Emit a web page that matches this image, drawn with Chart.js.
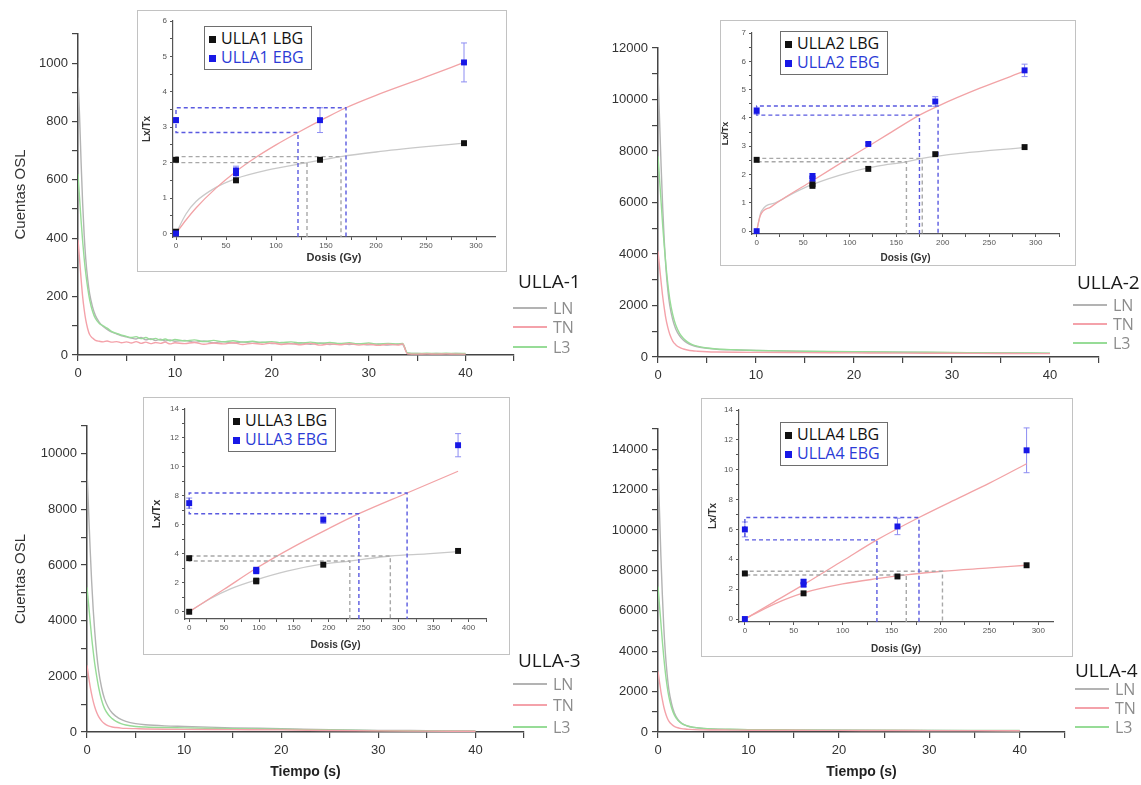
<!DOCTYPE html>
<html>
<head>
<meta charset="utf-8">
<script src="https://cdn.jsdelivr.net/npm/chart.js@4.4.0/dist/chart.umd.min.js"></script>
<style>
body { margin: 0; background: #fff; width: 1141px; height: 785px; position: relative; overflow: hidden; font-family: "Liberation Sans", Arial, sans-serif; }
canvas { position: absolute; }
.box { position: absolute; background: #fff; border: 1.5px solid #c2c2c2; box-sizing: border-box; z-index: 2; }
.lg { position: absolute; z-index: 4; background: #fff; border: 1px solid #6e6e6e; font: 16px/19px "Open Sans"; padding: 2px 7px 2px 4px; white-space: nowrap; color: #111; }
.lg .m { display: inline-block; width: 7px; height: 7px; margin-right: 5px; vertical-align: 1px; }
.pt { position: absolute; z-index: 4; font: 19px/26px "Open Sans"; color: #1a1a1a; }
.pr { position: absolute; z-index: 4; font: 16px/20px "Open Sans"; color: #8c8c8c; display: flex; align-items: center; }
.pr i { display: inline-block; width: 34px; height: 2px; margin-right: 6px; }
</style>
</head>
<body>
<canvas id="m1" width="520" height="370" style="left:8px;top:20px;z-index:1"></canvas>
<canvas id="m2" width="516" height="360" style="left:598px;top:30px;z-index:1"></canvas>
<canvas id="m3" width="530" height="375" style="left:8px;top:410px;z-index:1"></canvas>
<canvas id="m4" width="490" height="375" style="left:590px;top:410px;z-index:1"></canvas>

<div class="box" style="left:137px;top:10px;width:370px;height:262px"></div>
<canvas id="i1" width="370" height="262" style="left:137px;top:10px;z-index:3"></canvas>
<div class="box" style="left:720px;top:20px;width:356px;height:246px"></div>
<canvas id="i2" width="356" height="246" style="left:720px;top:20px;z-index:3"></canvas>
<div class="box" style="left:143px;top:397px;width:367px;height:258px"></div>
<canvas id="i3" width="367" height="258" style="left:143px;top:397px;z-index:3"></canvas>
<div class="box" style="left:701px;top:398px;width:372px;height:259px"></div>
<canvas id="i4" width="372" height="259" style="left:701px;top:398px;z-index:3"></canvas>

<div class="lg" style="left:204px;top:26px"><div><span class="m" style="background:#111"></span>ULLA1 LBG</div><div style="color:#2b3bd6"><span class="m" style="background:#1818e6"></span>ULLA1 EBG</div></div>
<div class="lg" style="left:780px;top:31px"><div><span class="m" style="background:#111"></span>ULLA2 LBG</div><div style="color:#2b3bd6"><span class="m" style="background:#1818e6"></span>ULLA2 EBG</div></div>
<div class="lg" style="left:228px;top:408px"><div><span class="m" style="background:#111"></span>ULLA3 LBG</div><div style="color:#2b3bd6"><span class="m" style="background:#1818e6"></span>ULLA3 EBG</div></div>
<div class="lg" style="left:780px;top:422px"><div><span class="m" style="background:#111"></span>ULLA4 LBG</div><div style="color:#2b3bd6"><span class="m" style="background:#1818e6"></span>ULLA4 EBG</div></div>

<div class="pt" style="left:518px;top:268px">ULLA-1</div>
<div class="pr" style="left:513px;top:298px"><i style="background:#b3b3b3"></i>LN</div>
<div class="pr" style="left:513px;top:317px"><i style="background:#f4a2aa"></i>TN</div>
<div class="pr" style="left:513px;top:337px"><i style="background:#97dc97"></i>L3</div>

<div class="pt" style="left:1077px;top:269px">ULLA-2</div>
<div class="pr" style="left:1073px;top:295px"><i style="background:#b3b3b3"></i>LN</div>
<div class="pr" style="left:1073px;top:314px"><i style="background:#f4a2aa"></i>TN</div>
<div class="pr" style="left:1073px;top:333px"><i style="background:#97dc97"></i>L3</div>

<div class="pt" style="left:518px;top:647px">ULLA-3</div>
<div class="pr" style="left:513px;top:674px"><i style="background:#b3b3b3"></i>LN</div>
<div class="pr" style="left:513px;top:695px"><i style="background:#f4a2aa"></i>TN</div>
<div class="pr" style="left:513px;top:717px"><i style="background:#97dc97"></i>L3</div>

<div class="pt" style="left:1075px;top:657px">ULLA-4</div>
<div class="pr" style="left:1075px;top:679px"><i style="background:#b3b3b3"></i>LN</div>
<div class="pr" style="left:1075px;top:698px"><i style="background:#f4a2aa"></i>TN</div>
<div class="pr" style="left:1075px;top:717px"><i style="background:#97dc97"></i>L3</div>

<script>
// OSL decay curves, ULLA-1 (time in s, counts)
const t1 = [0, 0.16, 0.32, 0.48, 0.64, 0.8, 1, 1.2, 1.5, 1.8, 2.2, 2.6, 3, 3.5, 4, 4.5, 5,
  5.5, 6, 6.5, 7, 7.5, 8, 8.5, 9, 9.5, 10,
  11, 12, 13, 14, 15, 16, 17, 18, 19, 20, 21, 22, 23, 24, 25, 26, 27, 28, 29, 30, 31, 32, 33,
  33.5, 34, 35, 36, 37, 38, 39, 40];
const ln1 = [950, 820, 660, 520, 410, 330, 260, 210, 165, 135, 112, 98, 88, 78, 72, 66, 62,
  58, 55, 60, 52, 56, 50, 54, 48, 52, 47,
  50, 44, 48, 42, 46, 41, 45, 40, 44, 39, 43, 38, 42, 37, 41, 36, 40, 36, 39, 35, 38, 34, 37,
  36, 6, 5, 4, 5, 4, 5, 4];
const tn1 = [395, 330, 260, 200, 155, 120, 90, 70, 58, 50, 47, 45, 48, 44, 46, 42, 45,
  41, 46, 40, 44, 39, 43, 40, 44, 38, 42,
  39, 43, 37, 41, 38, 42, 36, 40, 37, 41, 36, 39, 35, 40, 34, 38, 35, 39, 34, 37, 33, 37, 34,
  38, 4, 3, 4, 3, 4, 3, 3];
const l31 = [620, 540, 460, 390, 330, 280, 230, 190, 150, 125, 108, 100, 92, 80, 74, 68, 64,
  60, 63, 56, 60, 53, 57, 51, 55, 49, 53,
  48, 52, 46, 50, 45, 49, 44, 47, 43, 46, 42, 45, 41, 44, 40, 43, 39, 42, 38, 41, 37, 40, 38,
  40, 7, 5, 6, 5, 6, 5, 5];

// OSL decay curves, ULLA-2..4 (shared time grid)
const tOsl = [0, 0.16, 0.32, 0.48, 0.64, 0.8, 1, 1.2, 1.5, 1.8, 2.2, 2.6, 3, 3.5, 4, 5, 6, 8, 10, 15, 20, 25, 30, 35, 40];
const ln2 = [11000, 9200, 7400, 5800, 4500, 3500, 2600, 2000, 1450, 1100, 820, 650, 540, 450, 400, 340, 300, 270, 250, 220, 200, 185, 170, 155, 140];
const l32 = [7800, 6900, 6000, 5100, 4300, 3600, 2850, 2250, 1650, 1250, 920, 720, 590, 480, 420, 350, 310, 280, 255, 225, 205, 190, 175, 160, 150];
const tn2 = [4100, 3500, 2900, 2350, 1900, 1500, 1150, 880, 620, 480, 370, 310, 270, 240, 225, 205, 195, 185, 180, 170, 160, 150, 145, 135, 130];
const ln3 = [9400, 8000, 6600, 5400, 4400, 3600, 2800, 2200, 1600, 1200, 880, 680, 560, 450, 380, 300, 260, 220, 200, 150, 120, 80, 60, 50, 40];
const l33 = [5200, 4600, 4000, 3400, 2900, 2450, 2000, 1600, 1150, 850, 620, 480, 380, 300, 250, 200, 180, 160, 150, 120, 100, 70, 50, 40, 30];
const tn3 = [2400, 2000, 1650, 1350, 1100, 900, 700, 550, 400, 300, 220, 180, 160, 140, 130, 120, 110, 100, 95, 85, 75, 55, 40, 30, 25];
const ln4 = [13500, 11000, 8700, 6800, 5200, 4000, 2900, 2100, 1400, 950, 620, 440, 340, 260, 220, 170, 145, 125, 110, 95, 85, 78, 72, 68, 65];
const l34 = [7200, 6300, 5400, 4500, 3700, 3000, 2300, 1750, 1200, 850, 580, 430, 340, 270, 230, 180, 155, 135, 120, 105, 95, 88, 82, 78, 75];
const tn4 = [3000, 2500, 2000, 1600, 1250, 980, 720, 540, 380, 280, 210, 170, 145, 130, 120, 105, 100, 95, 90, 85, 80, 75, 70, 68, 65];

// dose-response insets: ULLA1
const u1LbgDose = [0, 0, 60, 144, 288];
const u1LbgLx = [0.05, 2.08, 1.5, 2.08, 2.55];
const u1EbgDose = [0, 0, 60, 60, 144, 288];
const u1EbgLx = [0, 3.2, 1.7, 1.78, 3.2, 4.83];
const u1EbgErr = [0, 0.07, 0.12, 0.12, 0.35, 0.55];
const u1FitEbgDose = [0, 10, 20, 40, 60, 80, 100, 122, 150, 170, 200, 250, 288];
const u1FitEbg = [0, 0.38, 0.72, 1.28, 1.75, 2.15, 2.5, 2.85, 3.27, 3.55, 3.9, 4.42, 4.83];
const u1FitLbgDose = [0, 10, 20, 40, 60, 90, 131, 165, 200, 250, 288];
const u1FitLbg = [0, 0.55, 0.9, 1.3, 1.55, 1.78, 2.0, 2.17, 2.3, 2.45, 2.55];
const u1DeEbg = [[122, 2.85], [170, 3.55]];
const u1DeLbg = [[131, 2.0], [165, 2.17]];

// ULLA2
const u2LbgDose = [0, 60, 60, 120, 192, 288];
const u2LbgLx = [2.52, 1.6, 1.66, 2.2, 2.72, 2.97];
const u2EbgDose = [0, 0, 60, 60, 120, 192, 288];
const u2EbgLx = [0, 4.25, 1.86, 1.95, 3.08, 4.58, 5.68];
const u2EbgErr = [0, 0.12, 0.08, 0.08, 0.05, 0.17, 0.22];
const u2FitEbgDose = [0, 4, 15, 30, 60, 100, 140, 175, 195, 240, 288];
const u2FitEbg = [0, 0.55, 0.85, 1.18, 1.78, 2.6, 3.4, 4.1, 4.42, 5.05, 5.65];
const u2FitLbgDose = [0, 5, 20, 40, 60, 100, 130, 161, 178, 220, 288];
const u2FitLbg = [0, 0.7, 1.0, 1.35, 1.65, 2.08, 2.3, 2.45, 2.57, 2.75, 2.95];
const u2DeEbg = [[175, 4.1], [195, 4.42]];
const u2DeLbg = [[161, 2.45], [178, 2.57]];

// ULLA3
const u3LbgDose = [0, 0, 96, 96, 192, 385];
const u3LbgLx = [0, 3.7, 2.1, 2.15, 3.25, 4.2];
const u3EbgDose = [0, 96, 96, 192, 385];
const u3EbgLx = [7.5, 2.8, 2.9, 6.35, 11.5];
const u3EbgErr = [0.35, 0.15, 0.15, 0.25, 0.8];
const u3FitEbgDose = [0, 50, 96, 150, 200, 243, 312, 385];
const u3FitEbg = [0, 1.55, 3.0, 4.5, 5.75, 6.77, 8.2, 9.7];
const u3FitLbgDose = [0, 30, 60, 96, 140, 192, 230, 288, 340, 385];
const u3FitLbg = [0, 0.9, 1.6, 2.2, 2.8, 3.3, 3.5, 3.85, 4.0, 4.15];
const u3DeEbg = [[243, 6.77], [312, 8.2]];
const u3DeLbg = [[230, 3.5], [288, 3.85]];

// ULLA4
const u4LbgDose = [0, 60, 156, 288];
const u4LbgLx = [3.05, 1.72, 2.85, 3.6];
const u4EbgDose = [0, 0, 60, 60, 156, 288];
const u4EbgLx = [0, 6.0, 2.3, 2.5, 6.2, 11.3];
const u4EbgErr = [0, 0.5, 0.12, 0.12, 0.55, 1.5];
const u4FitEbgDose = [0, 30, 60, 100, 135, 178, 220, 250, 288];
const u4FitEbg = [0, 1.15, 2.3, 3.9, 5.3, 6.8, 8.15, 9.1, 10.4];
const u4FitLbgDose = [0, 30, 60, 100, 135, 165, 202, 250, 288];
const u4FitLbg = [0, 1.0, 1.75, 2.35, 2.7, 2.95, 3.2, 3.42, 3.6];
const u4DeEbg = [[135, 5.3], [178, 6.8]];
const u4DeLbg = [[165, 2.95], [202, 3.2]];

Chart.defaults.font.family = '"Liberation Sans", Arial, sans-serif';

// error bars drawn from dataset.errors through the y scale
const errorBars = {
  id: 'errorBars',
  beforeDatasetsDraw(chart) {
    const ctx = chart.ctx, ys = chart.scales.y;
    chart.data.datasets.forEach((ds, i) => {
      if (!ds.errors) return;
      chart.getDatasetMeta(i).data.forEach((pt, j) => {
        const e = ds.errors[j];
        if (!e) return;
        const v = ds.data[j].y;
        const y1 = ys.getPixelForValue(v - e), y2 = ys.getPixelForValue(v + e);
        ctx.save();
        ctx.strokeStyle = '#8d8df2';
        ctx.lineWidth = 1;
        ctx.beginPath();
        ctx.moveTo(pt.x, y1); ctx.lineTo(pt.x, y2);
        ctx.moveTo(pt.x - 3, y1); ctx.lineTo(pt.x + 3, y1);
        ctx.moveTo(pt.x - 3, y2); ctx.lineTo(pt.x + 3, y2);
        ctx.stroke();
        ctx.restore();
      });
    });
  }
};

function pts(xs, ys) { return xs.map((x, i) => ({x: x, y: ys[i]})); }

// dashed projection of the natural signal onto the fit and down to the dose axis
function dePath(de, y0) {
  const [[x1, y1], [x2, y2]] = de;
  return [{x: x1, y: y0}, {x: x1, y: y1}, {x: 0, y: y1}, {x: 0, y: y2}, {x: x2, y: y2}, {x: x2, y: y0}];
}

function onlySteps(step) {
  return s => {
    s.ticks = s.ticks.filter(t => t.value >= 0 && t.value <= s.max + 1e-9 &&
      Math.abs(t.value / step - Math.round(t.value / step)) < 1e-6);
  };
}

function mainChart(id, g, t, ln, tn, l3, yMax, yTitle, xTitle) {
  const line = (label, ys, color) => ({label: label, data: pts(t, ys), showLine: true, borderColor: color,
    borderWidth: 1.4, pointRadius: 0, cubicInterpolationMode: 'monotone'});
  const minor = yMax > 2000 ? 1000 : 100;
  new Chart(document.getElementById(id), {
    type: 'scatter',
    data: {datasets: [line('TN', tn, '#f4a2aa'), line('L3', l3, '#97dc97'), line('LN', ln, '#b3b3b3')]},
    options: {
      responsive: false, animation: false, devicePixelRatio: 1, events: [],
      layout: {padding: {top: g.pt, right: g.pr, left: 0, bottom: 0}},
      plugins: {legend: {display: false}, tooltip: {enabled: false}},
      scales: {
        x: {min: 0, max: 45, afterBuildTicks: onlySteps(5), afterFit: s => { s.height = g.xh; },
          ticks: {stepSize: 5, autoSkip: false, maxRotation: 0, padding: 5, color: '#333', font: {size: 13},
            callback: v => v % 10 === 0 ? v : ''},
          grid: {drawOnChartArea: false, tickLength: 6, color: '#444', lineWidth: 1.2},
          border: {color: '#444', width: 1.5},
          title: {display: !!xTitle, text: xTitle, color: '#222', font: {size: 14, weight: 'bold'}}},
        y: {min: 0, max: yMax, afterBuildTicks: onlySteps(minor), afterFit: s => { s.width = g.yw; },
          ticks: {stepSize: minor, autoSkip: false, padding: 4, color: '#333', font: {size: 13},
            callback: v => v % (minor * 2) === 0 ? v : ''},
          grid: {drawOnChartArea: false, tickLength: 6, color: '#444', lineWidth: 1.2},
          border: {color: '#444', width: 1.5},
          title: {display: !!yTitle, text: yTitle, color: '#333', font: {size: 15}}}
      }
    }
  });
}

function insetChart(id, g, d) {
  const dot = (label, xs, ys, color, err) => ({label: label, data: pts(xs, ys), errors: err, backgroundColor: color,
    borderColor: color, pointStyle: 'rect', pointRadius: 4.2, pointBorderWidth: 0});
  const fit = (xs, ys, color) => ({data: pts(xs, ys), showLine: true, borderColor: color, borderWidth: 1.3,
    pointRadius: 0, cubicInterpolationMode: 'monotone'});
  const dash = (de, color) => ({data: dePath(de, d.yMin), showLine: true, borderColor: color, borderWidth: 1.4,
    borderDash: [4, 3], pointRadius: 0});
  const tickFont = {size: 8};
  new Chart(document.getElementById(id), {
    type: 'scatter',
    data: {datasets: [
      dot('EBG', d.ebgX, d.ebgY, '#1818e6', d.ebgErr),
      dot('LBG', d.lbgX, d.lbgY, '#111111'),
      dash(d.deEbg, '#5a5ae0'),
      dash(d.deLbg, '#a8a8a8'),
      fit(d.fitEbgX, d.fitEbgY, '#f2a3a6'),
      fit(d.fitLbgX, d.fitLbgY, d.lbgColor)
    ]},
    options: {
      responsive: false, animation: false, devicePixelRatio: 1, events: [],
      layout: {padding: {top: g.pt, right: g.pr, left: 0, bottom: 0}},
      plugins: {legend: {display: false}, tooltip: {enabled: false}},
      scales: {
        x: {min: d.xMin, max: d.xMax, afterBuildTicks: onlySteps(25), afterFit: s => { s.height = g.xh; },
          ticks: {stepSize: 25, includeBounds: false, autoSkip: false, maxRotation: 0, padding: 1, color: '#555', font: tickFont,
            callback: v => v % 50 === 0 ? v : ''},
          grid: {drawOnChartArea: false, tickLength: 3, color: '#555'},
          border: {color: '#555', width: 1.2},
          title: {display: true, text: 'Dosis (Gy)', color: '#333', font: {size: g.xtf, weight: 'bold'},
            padding: {top: 0, bottom: g.xtp}}},
        y: {min: d.yMin, max: d.yMax, afterBuildTicks: onlySteps(d.yMinor), afterFit: s => { s.width = g.yw; },
          ticks: {stepSize: d.yMinor, includeBounds: false, autoSkip: false, padding: 3, color: '#555', font: tickFont,
            callback: v => Math.abs(v / d.yMajor - Math.round(v / d.yMajor)) < 1e-6 ? v : ''},
          grid: {drawOnChartArea: false, tickLength: 3, color: '#555'},
          border: {color: '#555', width: 1.2},
          title: {display: true, text: 'Lx/Tx', color: '#333', font: {size: g.ytf, weight: 'bold'},
            padding: {top: g.ytp, bottom: 0}}}
      }
    },
    plugins: [errorBars]
  });
}

mainChart('m1', {pt: 14, pr: 14, yw: 70, xh: 35}, t1, ln1, tn1, l31, 1100, 'Cuentas OSL', '');
mainChart('m2', {pt: 18, pr: 15, yw: 60, xh: 33}, tOsl, ln2, tn2, l32, 12000, '', '');
mainChart('m3', {pt: 16, pr: 14, yw: 79, xh: 53}, tOsl, ln3, tn3, l33, 11000, 'Cuentas OSL', 'Tiempo (s)');
mainChart('m4', {pt: 19, pr: 15, yw: 68, xh: 53}, tOsl, ln4, tn4, l34, 15000, '', 'Tiempo (s)');

insetChart('i1', {pt: 11, pr: 12, yw: 36, xh: 35, xtf: 11, xtp: 7, ytf: 10, ytp: 4}, {
  xMin: -3, xMax: 319, yMin: -0.1, yMax: 6, yMinor: 0.5, yMajor: 1,
  lbgX: u1LbgDose, lbgY: u1LbgLx, ebgX: u1EbgDose, ebgY: u1EbgLx, ebgErr: u1EbgErr,
  fitEbgX: u1FitEbgDose, fitEbgY: u1FitEbg, fitLbgX: u1FitLbgDose, fitLbgY: u1FitLbg, lbgColor: '#c9c9c9',
  deEbg: u1DeEbg, deLbg: u1DeLbg});
insetChart('i2', {pt: 13, pr: 17, yw: 32, xh: 32, xtf: 10, xtp: 2, ytf: 9, ytp: 0}, {
  xMin: -5, xMax: 325, yMin: -0.1, yMax: 7, yMinor: 0.5, yMajor: 1,
  lbgX: u2LbgDose, lbgY: u2LbgLx, ebgX: u2EbgDose, ebgY: u2EbgLx, ebgErr: u2EbgErr,
  fitEbgX: u2FitEbgDose, fitEbgY: u2FitEbg, fitLbgX: u2FitLbgDose, fitLbgY: u2FitLbg, lbgColor: '#c9c9c9',
  deEbg: u2DeEbg, deLbg: u2DeLbg});
insetChart('i3', {pt: 12, pr: 24, yw: 42, xh: 36, xtf: 10, xtp: 4, ytf: 11, ytp: 7}, {
  xMin: -6, xMax: 425, yMin: -0.5, yMax: 14, yMinor: 1, yMajor: 2,
  lbgX: u3LbgDose, lbgY: u3LbgLx, ebgX: u3EbgDose, ebgY: u3EbgLx, ebgErr: u3EbgErr,
  fitEbgX: u3FitEbgDose, fitEbgY: u3FitEbg, fitLbgX: u3FitLbgDose, fitLbgY: u3FitLbg, lbgColor: '#c9c9c9',
  deEbg: u3DeEbg, deLbg: u3DeLbg});
insetChart('i4', {pt: 12, pr: 20, yw: 38, xh: 35, xtf: 10, xtp: 2, ytf: 10, ytp: 6}, {
  xMin: -6, xMax: 315, yMin: -0.2, yMax: 14, yMinor: 1, yMajor: 2,
  lbgX: u4LbgDose, lbgY: u4LbgLx, ebgX: u4EbgDose, ebgY: u4EbgLx, ebgErr: u4EbgErr,
  fitEbgX: u4FitEbgDose, fitEbgY: u4FitEbg, fitLbgX: u4FitLbgDose, fitLbgY: u4FitLbg, lbgColor: '#f2a3a6',
  deEbg: u4DeEbg, deLbg: u4DeLbg});
</script>
</body>
</html>
